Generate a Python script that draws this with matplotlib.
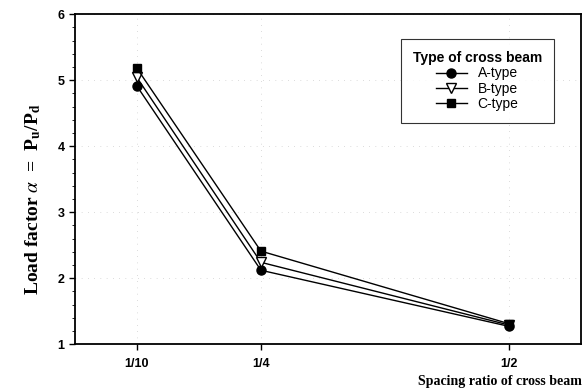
import matplotlib
matplotlib.use("Agg")
import matplotlib.pyplot as plt
from matplotlib.ticker import MultipleLocator

# data
tick_labels = ["1/10", "1/4", "1/2"]
x_pos = [1, 2, 4]
a_type = [4.91, 2.12, 1.27]
b_type = [5.04, 2.24, 1.29]
c_type = [5.18, 2.41, 1.31]

plt.rcParams["font.family"] = ["Liberation Sans", "DejaVu Sans"]
plt.rcParams["mathtext.fontset"] = "stix"

fig = plt.figure(figsize=(5.85, 3.92), dpi=100)
ax = fig.add_axes([0.128, 0.122, 0.865, 0.842])

ax.plot(x_pos, a_type, color="black", lw=1.0, marker="o", ms=6.5,
        mfc="black", mec="black", label="A-type")
ax.plot(x_pos, b_type, color="black", lw=1.0, marker="v", ms=7,
        mfc="white", mec="black", label="B-type")
ax.plot(x_pos, c_type, color="black", lw=1.0, marker="s", ms=6,
        mfc="black", mec="black", label="C-type")

ax.set_xlim(0.5, 4.58)
ax.set_ylim(1, 6)
ax.set_xticks(x_pos)
ax.set_xticklabels(tick_labels)
ax.yaxis.set_major_locator(MultipleLocator(1))
ax.yaxis.set_minor_locator(MultipleLocator(0.2))
ax.tick_params(axis="both", labelsize=9, width=1, length=4)
ax.tick_params(axis="x", pad=6)
ax.tick_params(axis="y", which="minor", length=2, width=0.6)
for lab in ax.get_xticklabels() + ax.get_yticklabels():
    lab.set_fontweight("bold")

ax.grid(True, which="major", color="#bbbbbb", lw=0.5, ls=(0, (1, 8)))
for s in ax.spines.values():
    s.set_linewidth(1.3)

ax.set_ylabel(r"Load factor $\alpha$  =  P$_\mathbf{u}$/P$_\mathbf{d}$",
              family=["Liberation Serif", "DejaVu Serif"], fontweight="bold",
              fontsize=14)
ax.yaxis.set_label_coords(-0.063, 0.44)
fig.text(0.995, 0.01, "Spacing ratio of cross beam",
         family=["Liberation Serif", "DejaVu Serif"], fontweight="bold",
         fontsize=10, ha="right", va="bottom")

leg = ax.legend(title="Type of cross beam", loc="upper right",
                bbox_to_anchor=(0.96, 0.945), fontsize=10,
                title_fontproperties={"weight": "bold", "size": 10},
                frameon=True, fancybox=False, edgecolor="black",
                handlelength=2.2, borderpad=0.85, labelspacing=0.1)
leg.get_frame().set_linewidth(0.8)

fig.savefig("out.png", dpi=100)
